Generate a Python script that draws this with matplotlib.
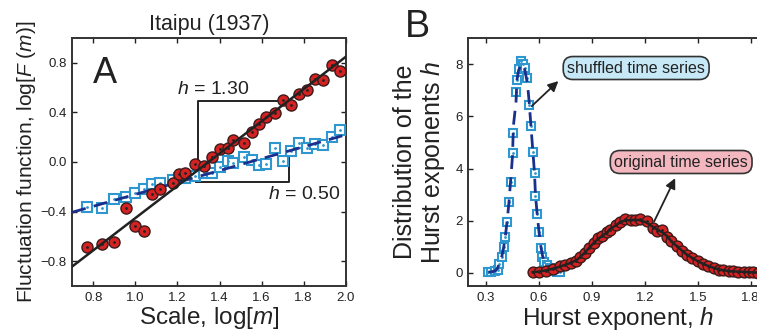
import numpy as np
import matplotlib
matplotlib.use('Agg')
import matplotlib.pyplot as plt

plt.rcParams['font.family'] = ['Liberation Sans', 'DejaVu Sans']
plt.rcParams['mathtext.fontset'] = 'custom'
plt.rcParams['mathtext.rm'] = 'Liberation Sans'
plt.rcParams['mathtext.it'] = 'Liberation Sans:italic'
plt.rcParams['axes.unicode_minus'] = True

# ---------------- Panel A data ----------------
a_log_m = [0.771, 0.843, 0.900, 0.953, 0.996, 1.039, 1.081, 1.116, 1.177, 1.208,
           1.234, 1.282, 1.328, 1.362, 1.401, 1.438, 1.465, 1.515, 1.553, 1.587,
           1.622, 1.662, 1.700, 1.740, 1.778, 1.815, 1.855, 1.892, 1.933, 1.973]
a_orig_logF = [-0.687, -0.663, -0.642, -0.373, -0.515, -0.556, -0.260, -0.217, -0.166, -0.097,
               -0.086, -0.019, -0.030, 0.043, 0.102, 0.110, 0.177, 0.156, 0.239, 0.303,
               0.365, 0.392, 0.499, 0.462, 0.545, 0.580, 0.671, 0.660, 0.779, 0.733]
a_shuf_logF = [-0.360, -0.368, -0.301, -0.279, -0.247, -0.220, -0.180, -0.170, -0.145, -0.130,
               -0.130, -0.110, -0.091, -0.091, -0.038, 0.011, -0.010, 0.038, 0.016, -0.024,
               -0.016, 0.110, 0.008, 0.089, 0.156, 0.110, 0.145, 0.137, 0.199, 0.258]
a_orig_slope, a_orig_intercept = 1.30, -1.752
a_shuf_slope, a_shuf_intercept = 0.48, -0.741
a_xticks = [0.8, 1.0, 1.2, 1.4, 1.6, 1.8, 2.0]
a_xticklabels = ['0.8', '1.0', '1.2', '1.4', '1.6', '1.8', '2.0']
a_yticks = [-0.8, -0.4, 0.0, 0.4, 0.8]
a_yticklabels = ['\u22120.8', '\u22120.4', '0.0', '0.4', '0.8']

# ---------------- Panel B data ----------------
b_shuf_h = [0.313, 0.33, 0.35, 0.365, 0.375, 0.39, 0.40, 0.41, 0.42, 0.43,
            0.44, 0.45, 0.455, 0.47, 0.475, 0.485, 0.50, 0.51, 0.52, 0.535,
            0.545, 0.555, 0.565, 0.575, 0.58, 0.59, 0.60, 0.61, 0.62, 0.63,
            0.645, 0.66, 0.68, 0.70, 0.72]
b_shuf_p = [0.03, 0.04, 0.06, 0.12, 0.35, 0.62, 0.98, 1.36, 1.97, 2.70,
            3.48, 4.59, 5.35, 6.95, 7.38, 7.83, 8.11, 8.00, 7.85, 7.45,
            6.45, 5.63, 4.65, 3.82, 2.93, 2.25, 1.55, 0.96, 0.62, 0.42,
            0.30, 0.18, 0.08, 0.03, 0.02]
b_orig_h = [0.565, 0.60, 0.64, 0.68, 0.72, 0.75, 0.78, 0.81, 0.835, 0.86,
            0.885, 0.91, 0.935, 0.96, 0.985, 1.003, 1.035, 1.06, 1.085, 1.12,
            1.145, 1.17, 1.21, 1.245, 1.27, 1.30, 1.325, 1.35, 1.38, 1.41,
            1.437, 1.47, 1.50, 1.53, 1.56, 1.59, 1.62, 1.645, 1.675, 1.70,
            1.73, 1.76, 1.79, 1.815, 1.84]
b_orig_p = [0.03, 0.05, 0.08, 0.16, 0.25, 0.32, 0.38, 0.46, 0.60, 0.78,
            0.96, 1.16, 1.32, 1.42, 1.55, 1.66, 1.85, 1.94, 2.05, 2.02,
            2.01, 2.08, 1.98, 1.72, 1.62, 1.66, 1.38, 1.22, 1.03, 0.85,
            0.70, 0.57, 0.44, 0.34, 0.27, 0.19, 0.13, 0.10, 0.07, 0.06,
            0.05, 0.04, 0.03, 0.02, 0.01]
b_xticks = [0.3, 0.6, 0.9, 1.2, 1.5, 1.8]
b_xticklabels = ['0.3', '0.6', '0.9', '1.2', '1.5', '1.8']
b_yticks = [0, 2, 4, 6, 8]
b_yticklabels = ['0', '2', '4', '6', '8']

RED = '#d42222'
RED_EDGE = '#3d1a1a'
BLUE = '#2f97cf'
NAVY = '#1b2f8c'
DARK = '#222222'


def smooth(v):
    v = np.asarray(v, dtype=float)
    out = v.copy()
    out[1:-1] = (v[:-2] + v[1:-1] + v[2:]) / 3.0
    return out


def style_axes(ax):
    for s in ax.spines.values():
        s.set_linewidth(1.4)
        s.set_color('#333333')
    ax.tick_params(direction='in', top=True, right=True, length=3.5, width=1.0,
                   labelsize=9.5, colors='#222222', pad=4)


fig = plt.figure(figsize=(7.57, 3.34), dpi=100)

# ---------------- Panel A ----------------
axA = fig.add_axes([72.3 / 757, 48 / 334, 273.4 / 757, 248 / 334])
style_axes(axA)
axA.set_xlim(0.7, 2.0)
axA.set_ylim(-1.0, 1.0)
axA.set_xticks(a_xticks)
axA.set_xticklabels(a_xticklabels)
axA.set_yticks(a_yticks)
axA.set_yticklabels(a_yticklabels)

axA.plot(a_log_m, a_shuf_logF, linestyle='none', marker='s', ms=6.5, mfc='white',
         mec=BLUE, mew=1.5, zorder=3)
axA.plot(a_log_m, a_shuf_logF, linestyle='none', marker='o', ms=1.0, color=BLUE, zorder=3.1)
xl = np.array([0.7, 2.0])
axA.plot(xl, a_shuf_slope * xl + a_shuf_intercept, color=NAVY, lw=2.0,
         dashes=(5, 3), zorder=3.5)
axA.plot(a_log_m, a_orig_logF, linestyle='none', marker='o', ms=8.0, mfc=RED,
         mec=RED_EDGE, mew=1.0, zorder=4)
axA.plot(a_log_m, a_orig_logF, linestyle='none', marker='o', ms=1.0, color='#222222', zorder=4.1)
axA.plot(xl, a_orig_slope * xl + a_orig_intercept, color=DARK, lw=1.8, zorder=5)

# slope triangles
axA.plot([1.30, 1.30, 1.68], [-0.01, 0.49, 0.49], color=DARK, lw=1.4, zorder=2)
axA.plot([1.29, 1.73, 1.73], [-0.158, -0.158, 0.10], color=DARK, lw=1.4, zorder=2)
axA.text(1.197, 0.545, '$h$ = 1.30', fontsize=14, ha='left', va='baseline', color='#222222')
axA.text(1.630, -0.30, '$h$ = 0.50', fontsize=14, ha='left', va='baseline', color='#222222')

axA.text(0.0755, 0.817, 'A', transform=axA.transAxes, fontsize=26, ha='left',
         va='baseline', color='#222222')
axA.set_title('Itaipu (1937)', fontsize=15.5, pad=6, color='#222222')
axA.set_xlabel('Scale, log[$m$]', fontsize=17.5, labelpad=1, color='#222222')
axA.set_ylabel('Fluctuation function, log[$F$ ($m$)]', fontsize=15, labelpad=2,
               color='#222222')

# ---------------- Panel B ----------------
axB = fig.add_axes([468.4 / 757, 48 / 334, 299.9 / 757, 248 / 334])
style_axes(axB)
axB.set_xlim(0.2, 1.9)
axB.set_ylim(-0.5, 9.0)
axB.set_xticks(b_xticks)
axB.set_xticklabels(b_xticklabels)
axB.set_yticks(b_yticks)
axB.set_yticklabels(b_yticklabels)

axB.plot(b_shuf_h, b_shuf_p, linestyle='none', marker='s', ms=6.3, mfc='white',
         mec=BLUE, mew=1.5, zorder=3)
axB.plot(b_shuf_h, b_shuf_p, linestyle='none', marker='o', ms=1.0, color=BLUE, zorder=3.1)
axB.plot(b_shuf_h, smooth(b_shuf_p), color=NAVY, lw=2.0, dashes=(5, 3), zorder=3.5)

axB.plot(b_orig_h, b_orig_p, linestyle='none', marker='o', ms=7.8, mfc=RED,
         mec=RED_EDGE, mew=1.0, zorder=4)
axB.plot(b_orig_h, b_orig_p, linestyle='none', marker='o', ms=1.0, color='#222222', zorder=4.1)
axB.plot(b_orig_h, smooth(b_orig_p), color=DARK, lw=1.8, zorder=5)

axB.annotate('', xy=(0.71, 7.35), xytext=(0.559, 6.39),
             arrowprops=dict(arrowstyle='-|>,head_length=0.6,head_width=0.3',
                             color='#222222', lw=1.3, shrinkA=0, shrinkB=0), zorder=6)
axB.annotate('', xy=(1.372, 3.63), xytext=(1.253, 1.97),
             arrowprops=dict(arrowstyle='-|>,head_length=0.6,head_width=0.3',
                             color='#222222', lw=1.3, shrinkA=0, shrinkB=0), zorder=6)
axB.text(1.151, 7.85, 'shuffled time series', fontsize=11.5, ha='center', va='center',
         color='#222222', zorder=7,
         bbox=dict(boxstyle='round,pad=0.25,rounding_size=0.6', fc='#c6e8f7', ec='#333333', lw=1.2))
axB.text(1.406, 4.25, 'original time series', fontsize=11.5, ha='center', va='center',
         color='#222222', zorder=7,
         bbox=dict(boxstyle='round,pad=0.25,rounding_size=0.6', fc='#f3b7c0', ec='#333333', lw=1.2))

fig.text(405 / 757, (334 - 36.7) / 334, 'B', fontsize=27, ha='left', va='baseline',
         color='#222222')
axB.set_xlabel('Hurst exponent, $h$', fontsize=17.5, labelpad=1, color='#222222')
axB.set_ylabel('Distribution of the\nHurst exponents $h$', fontsize=18, labelpad=6,
               color='#222222', linespacing=1.1)

fig.savefig('out.png', dpi=100)
